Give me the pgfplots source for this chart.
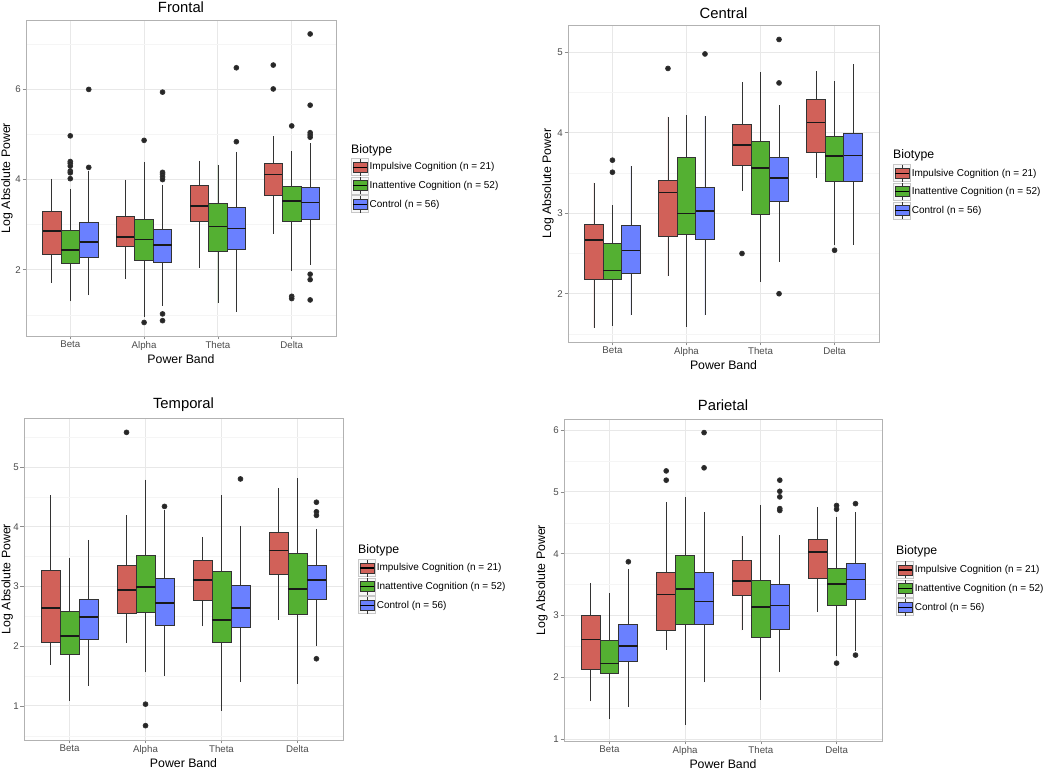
\documentclass[border=0pt]{standalone}
\usepackage{fontspec}
\setmainfont{Liberation Sans}
\usepackage{pgfplots}
\pgfplotsset{compat=1.18}
\usepgfplotslibrary{statistics}

\definecolor{redc}{RGB}{209,97,89}
\definecolor{grnc}{RGB}{84,176,50}
\definecolor{bluc}{RGB}{106,128,255}
\definecolor{boxd}{HTML}{333333}

\newcommand{\bx}[8]{%
  \addplot[forget plot, fill=#1, draw=boxd, line width=0.8pt,
    mark=*, mark size=2.4pt, mark options={solid, fill=black!85, draw=none},
    boxplot/draw direction=y,
    boxplot/every median/.style={draw=black!90, line width=1.5pt},
    boxplot/every whisker/.style={draw=boxd, line width=0.8pt},
    boxplot prepared={draw position=#2, lower whisker=#3, lower quartile=#4,
      median=#5, upper quartile=#6, upper whisker=#7, box extend=0.25, whisker extend=0}]
    coordinates {#8};
}

\newcommand{\drawkey}[1]{%
  \draw[draw=black!22, fill=black!3, line width=0.6pt] (0pt,-8.5pt) rectangle (17pt,8.5pt);
  \draw[draw=boxd, line width=0.6pt] (8.5pt,-8.5pt) -- (8.5pt,8.5pt);
  \draw[draw=boxd, fill=#1, line width=0.6pt] (1.5pt,-5pt) rectangle (15.5pt,5pt);
  \draw[black, line width=1.1pt] (1.5pt,0pt) -- (15.5pt,0pt);
}

\newcommand{\biolegend}{%
  \addlegendimage{legend image code/.code={\drawkey{redc}}}
  \addlegendentry{Impulsive Cognition (n = 21)}
  \addlegendimage{legend image code/.code={\drawkey{grnc}}}
  \addlegendentry{Inattentive Cognition (n = 52)}
  \addlegendimage{legend image code/.code={\drawkey{bluc}}}
  \addlegendentry{Control (n = 56)}
}

\pgfplotsset{
  panel/.style={
    scale only axis, anchor=south west, clip=false,
    xmin=0.4, xmax=4.6, xtick={1,2,3,4}, xticklabels={Beta,Alpha,Theta,Delta},
    tick pos=left, tick align=outside, major tick length=3.5pt, minor tick length=0pt,
    tick style={draw=black!45, line width=0.7pt},
    grid=both,
    major grid style={draw=black!9, line width=0.9pt},
    minor grid style={draw=black!4, line width=0.5pt},
    axis line style={draw=black!30, line width=0.9pt},
    ticklabel style={font=\fontsize{9.7}{11}\selectfont, text=black!70, inner sep=1.5pt},
    /pgf/number format/assume math mode=true,
    xlabel={Power Band}, ylabel={Log Absolute Power},
    label style={font=\fontsize{12.3}{14}\selectfont},
    every axis title shift=0pt,
    title style={font=\fontsize{14.8}{17}\selectfont, anchor=center},
    legend style={draw=none, fill=none, inner sep=0pt, anchor=north west,
      font=\fontsize{10}{12}\selectfont, cells={anchor=west}, row sep=1pt,
      nodes={inner sep=1pt}, /tikz/every even column/.append style={column sep=1.5pt}},
  }
}

\begin{document}
\begin{tikzpicture}[x=1pt,y=1pt]
\useasboundingbox (0,0) rectangle (1050,771);
\fill[white] (0,0) rectangle (1050,771);

% ---------------- Frontal ----------------
\begin{axis}[panel, at={(26pt,435pt)}, width=310pt, height=316pt,
  ymin=0.53, ymax=7.54, ytick={2,4,6}, minor ytick={1,3,5,7},
  title={Frontal}, title style={at={(rel axis cs:0.5,1.041)}},
  xlabel style={at={(rel axis cs:0.5,-0.0728)}, anchor=center},
  ylabel style={at={(rel axis cs:-0.0613,0.5)}, anchor=center},
  legend style={at={(1.048,0.563)}}]
\bx{redc}{0.75}{1.71}{2.35}{2.86}{3.29}{4.02}{}
\bx{grnc}{1.00}{1.30}{2.13}{2.44}{2.87}{3.80}{(0,4.97)(0,4.40)(0,4.36)(0,4.30)(0,4.19)(0,4.15)(0,4.02)}
\bx{bluc}{1.25}{1.43}{2.27}{2.61}{3.06}{4.20}{(0,6.00)(0,4.27)}
\bx{redc}{1.75}{1.79}{2.51}{2.73}{3.19}{4.00}{}
\bx{grnc}{2.00}{0.95}{2.21}{2.67}{3.12}{4.38}{(0,4.87)(0,0.83)}
\bx{bluc}{2.25}{1.20}{2.16}{2.55}{2.89}{3.89}{(0,5.94)(0,4.16)(0,4.12)(0,4.06)(0,4.00)(0,1.02)(0,0.87)}
\bx{redc}{2.75}{2.04}{3.08}{3.41}{3.87}{4.42}{}
\bx{grnc}{3.00}{1.26}{2.41}{2.96}{3.47}{4.33}{}
\bx{bluc}{3.25}{1.06}{2.44}{2.91}{3.39}{4.62}{(0,6.48)(0,4.84)}
\bx{redc}{3.75}{2.80}{3.64}{4.11}{4.36}{4.96}{(0,6.54)(0,6.01)}
\bx{grnc}{4.00}{1.97}{3.08}{3.52}{3.84}{4.63}{(0,5.19)(0,1.41)(0,1.36)}
\bx{bluc}{4.25}{2.11}{3.12}{3.49}{3.82}{4.81}{(0,7.23)(0,5.65)(0,5.04)(0,4.99)(0,4.94)(0,1.90)(0,1.78)(0,1.33)}
\biolegend
\node[anchor=west, font=\fontsize{12.3}{14}\selectfont, inner sep=0pt] at (rel axis cs:1.048,0.589) {Biotype};
\end{axis}

% ---------------- Central ----------------
\begin{axis}[panel, at={(568pt,429pt)}, width=311pt, height=317pt,
  ymin=1.40, ymax=5.34, ytick={2,3,4,5}, minor ytick={1.5,2.5,3.5,4.5},
  title={Central}, title style={at={(rel axis cs:0.5,1.038)}},
  xlabel style={at={(rel axis cs:0.5,-0.0726)}, anchor=center},
  ylabel style={at={(rel axis cs:-0.0643,0.5)}, anchor=center},
  legend style={at={(1.045,0.561)}}]
\bx{redc}{0.75}{1.58}{2.18}{2.67}{2.86}{3.38}{}
\bx{grnc}{1.00}{1.60}{2.18}{2.29}{2.62}{3.10}{(0,3.66)(0,3.51)}
\bx{bluc}{1.25}{1.73}{2.25}{2.54}{2.85}{3.59}{}
\bx{redc}{1.75}{2.22}{2.71}{3.26}{3.41}{4.20}{(0,4.80)}
\bx{grnc}{2.00}{1.59}{2.74}{3.00}{3.70}{4.22}{}
\bx{bluc}{2.25}{1.73}{2.67}{3.03}{3.32}{4.21}{(0,4.98)}
\bx{redc}{2.75}{3.28}{3.59}{3.85}{4.10}{4.63}{(0,2.50)}
\bx{grnc}{3.00}{2.15}{2.98}{3.56}{3.89}{4.75}{}
\bx{bluc}{3.25}{2.40}{3.15}{3.44}{3.70}{4.34}{(0,5.16)(0,4.62)(0,2.00)}
\bx{redc}{3.75}{3.44}{3.76}{4.13}{4.42}{4.77}{}
\bx{grnc}{4.00}{2.60}{3.39}{3.71}{3.95}{4.64}{(0,2.54)}
\bx{bluc}{4.25}{2.61}{3.39}{3.72}{3.99}{4.85}{}
\biolegend
\node[anchor=west, font=\fontsize{12.3}{14}\selectfont, inner sep=0pt] at (rel axis cs:1.045,0.590) {Biotype};
\end{axis}

% ---------------- Temporal ----------------
\begin{axis}[panel, at={(24pt,31pt)}, width=319pt, height=322pt,
  ymin=0.43, ymax=5.82, ytick={1,2,3,4,5}, minor ytick={0.5,1.5,2.5,3.5,4.5,5.5},
  title={Temporal}, title style={at={(rel axis cs:0.5,1.040)}},
  xlabel style={at={(rel axis cs:0.5,-0.0714)}, anchor=center},
  ylabel style={at={(rel axis cs:-0.053,0.5)}, anchor=center},
  legend style={at={(1.047,0.562)}}]
\bx{redc}{0.75}{1.69}{2.07}{2.64}{3.27}{4.53}{}
\bx{grnc}{1.00}{1.09}{1.86}{2.17}{2.59}{3.47}{}
\bx{bluc}{1.25}{1.34}{2.11}{2.49}{2.79}{3.78}{}
\bx{redc}{1.75}{2.05}{2.55}{2.94}{3.35}{4.19}{(0,5.58)}
\bx{grnc}{2.00}{1.56}{2.57}{2.99}{3.52}{4.79}{(0,1.03)(0,0.67)}
\bx{bluc}{2.25}{1.50}{2.34}{2.72}{3.13}{4.28}{(0,4.34)}
\bx{redc}{2.75}{2.33}{2.77}{3.11}{3.43}{3.83}{}
\bx{grnc}{3.00}{0.92}{2.07}{2.44}{3.26}{4.53}{}
\bx{bluc}{3.25}{1.40}{2.32}{2.64}{3.01}{4.02}{(0,4.80)}
\bx{redc}{3.75}{2.44}{3.20}{3.60}{3.90}{4.65}{}
\bx{grnc}{4.00}{1.37}{2.54}{2.96}{3.55}{4.81}{}
\bx{bluc}{4.25}{2.01}{2.79}{3.11}{3.35}{3.97}{(0,4.41)(0,4.25)(0,4.19)(0,1.79)}
\biolegend
\node[anchor=west, font=\fontsize{12.3}{14}\selectfont, inner sep=0pt] at (rel axis cs:1.047,0.590) {Biotype};
\end{axis}

% ---------------- Parietal ----------------
\begin{axis}[panel, at={(564pt,30pt)}, width=318pt, height=322pt,
  ymin=0.97, ymax=6.18, ytick={1,2,3,4,5,6}, minor ytick={1.5,2.5,3.5,4.5,5.5},
  title={Parietal}, title style={at={(rel axis cs:0.5,1.043)}},
  xlabel style={at={(rel axis cs:0.5,-0.0714)}, anchor=center},
  ylabel style={at={(rel axis cs:-0.069,0.5)}, anchor=center},
  legend style={at={(1.044,0.559)}}]
\bx{redc}{0.75}{1.61}{2.13}{2.61}{3.00}{3.53}{}
\bx{grnc}{1.00}{1.32}{2.07}{2.22}{2.59}{3.36}{}
\bx{bluc}{1.25}{1.52}{2.25}{2.51}{2.85}{3.76}{(0,3.87)}
\bx{redc}{1.75}{2.45}{2.76}{3.34}{3.70}{4.84}{(0,5.34)(0,5.19)}
\bx{grnc}{2.00}{1.23}{2.85}{3.43}{3.98}{4.91}{}
\bx{bluc}{2.25}{1.92}{2.85}{3.23}{3.70}{4.67}{(0,5.96)(0,5.39)}
\bx{redc}{2.75}{2.76}{3.32}{3.56}{3.89}{4.29}{}
\bx{grnc}{3.00}{1.64}{2.64}{3.14}{3.57}{4.79}{}
\bx{bluc}{3.25}{2.08}{2.78}{3.16}{3.50}{4.30}{(0,5.19)(0,5.01)(0,4.92)(0,4.73)(0,4.70)}
\bx{redc}{3.75}{3.06}{3.60}{4.03}{4.23}{4.76}{}
\bx{grnc}{4.00}{2.34}{3.16}{3.51}{3.77}{4.60}{(0,4.78)(0,4.72)(0,2.23)}
\bx{bluc}{4.25}{2.43}{3.26}{3.58}{3.85}{4.67}{(0,4.81)(0,2.36)}
\biolegend
\node[anchor=west, font=\fontsize{12.3}{14}\selectfont, inner sep=0pt] at (rel axis cs:1.044,0.590) {Biotype};
\end{axis}
\end{tikzpicture}
\end{document}
